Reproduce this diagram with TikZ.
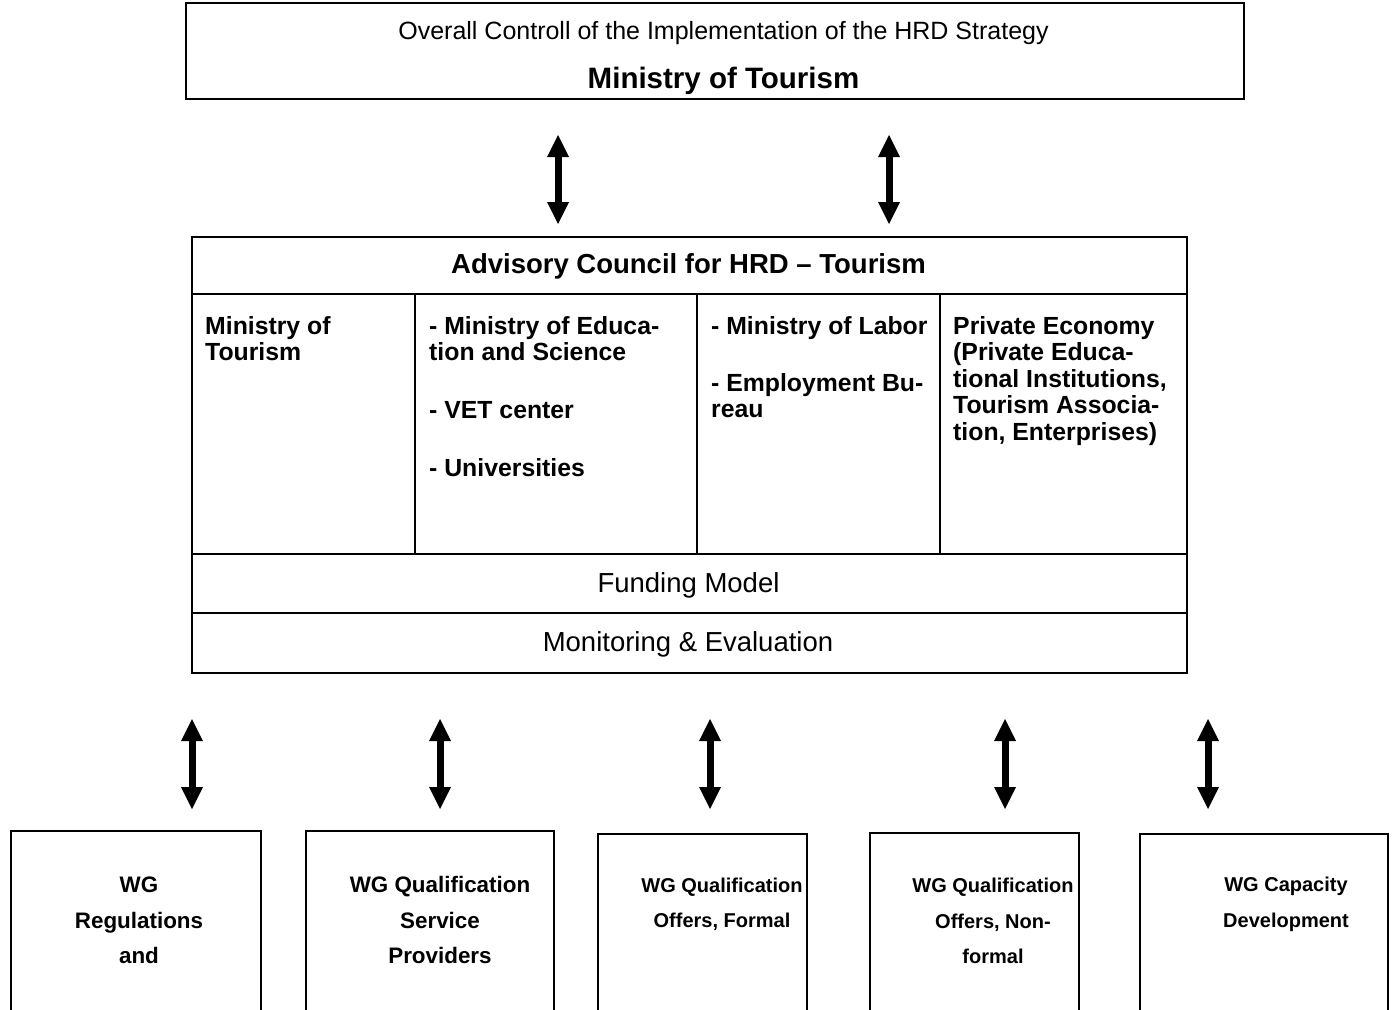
\documentclass[tikz,border=0pt]{standalone}
\usepackage{fontspec}
\setmainfont{Liberation Sans}
\usetikzlibrary{arrows.meta}
\newcommand{\fsz}[2]{\fontsize{#1}{#2}\selectfont}

\begin{document}
\begin{tikzpicture}[x=1pt,y=-1pt,
  box/.style={draw, line width=2pt, inner sep=0pt, anchor=north west},
  wgbox/.style={draw, line width=1.6pt, inner sep=0pt, anchor=north west, minimum height=220pt},
  biarrow/.style={line width=7pt, {Triangle[width=22pt,length=22pt,line width=0pt]}-{Triangle[width=22pt,length=22pt,line width=0pt]}},
  coltext/.style={anchor=north west, align=left, inner sep=0pt, font=\bfseries\fsz{24.8}{26.5}},
  plain/.style={inner sep=0pt, font=\fsz{27.5}{32}},
  wgbig/.style={align=center, inner sep=0pt, font=\bfseries\fsz{22.4}{35.5}},
  wgsmall/.style={align=center, inner sep=0pt, font=\bfseries\fsz{20}{35.5}},
  sep/.style={line width=2.5pt},
  thinsep/.style={line width=1.4pt}
]
\useasboundingbox (0,0) rectangle (1394,1009);

% ministry box
\node[box, minimum width=1058pt, minimum height=96pt] (mot) at (185,2) {};
\node[inner sep=0pt, font=\fsz{25}{30}] (ctl) at (723.5,33) {Overall Controll of the Implementation of the HRD Strategy};
\node[inner sep=0pt, font=\bfseries\fsz{29.5}{34}] (motname) at (723.5,81) {Ministry of Tourism};

% advisory council
\node[box, minimum width=995pt, minimum height=436pt] (council) at (191,236) {};
\node[inner sep=0pt, font=\bfseries\fsz{27.5}{32}] (title) at (688.5,266) {Advisory Council for HRD – Tourism};
\draw[sep] (191,294) -- (1186,294);
\draw[sep] (191,554) -- (1186,554);
\draw[thinsep] (191,613) -- (1186,613);
\draw[thinsep] (415,294) -- (415,554);
\draw[thinsep] (697,294) -- (697,554);
\draw[thinsep] (940,294) -- (940,554);

\node[coltext] (col1) at (205,316) {Ministry of\\Tourism};
\node[coltext] (col2) at (429,316) {- Ministry of Educa-\\tion and Science\\[31.5pt]- VET center\\[31.5pt]- Universities};
\node[coltext] (col3) at (711,316) {- Ministry of Labor\\[30.5pt]- Employment Bu-\\reau};
\node[coltext] (col4) at (953,316) {Private Economy\\(Private Educa-\\tional Institutions,\\Tourism Associa-\\tion, Enterprises)};

\node[plain] (fund) at (688.5,585) {Funding Model};
\node[plain] (mon) at (688,644) {Monitoring \& Evaluation};

% working groups
\node[wgbox, minimum width=250pt] (wg1) at (10,830) {};
\node[wgbox, minimum width=248pt] (wg2) at (305,830) {};
\node[wgbox, minimum width=209pt] (wg3) at (597,833) {};
\node[wgbox, minimum width=209pt] (wg4) at (869,832) {};
\node[wgbox, minimum width=248pt] (wg5) at (1139,833) {};

\node[wgbig] (wgt1) at (139,920.7) {WG\\Regulations\\and};
\node[wgbig] (wgt2) at (440,920.2) {WG Qualification\\Service\\Providers};
\node[wgsmall] (wgt3) at (722,904.5) {WG Qualification\\Offers, Formal};
\node[wgsmall] (wgt4) at (993,921.3) {WG Qualification\\Offers, Non-\\formal};
\node[wgsmall] (wgt5) at (1286,904.5) {WG Capacity\\Development};

% two-way arrows
\coordinate (ua1) at (558,135);  \coordinate (ub1) at (558,224);
\coordinate (ua2) at (889,135);  \coordinate (ub2) at (889,224);
\draw[biarrow] (ua1) -- (ub1);
\draw[biarrow] (ua2) -- (ub2);

\coordinate (la1) at (192,719);  \coordinate (lb1) at (192,809);
\coordinate (la2) at (440,719);  \coordinate (lb2) at (440,809);
\coordinate (la3) at (710,719);  \coordinate (lb3) at (710,809);
\coordinate (la4) at (1005,719); \coordinate (lb4) at (1005,809);
\coordinate (la5) at (1208,719); \coordinate (lb5) at (1208,809);
\foreach \i in {1,...,5} {\draw[biarrow] (la\i) -- (lb\i);}
\end{tikzpicture}
\end{document}
